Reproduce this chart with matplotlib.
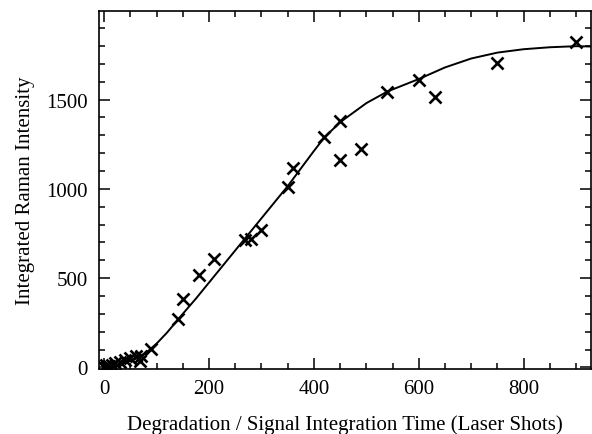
import matplotlib
matplotlib.use("Agg")
import matplotlib.pyplot as plt
from matplotlib.ticker import MultipleLocator

# measured points (laser shots, integrated intensity)
shots = [0, 3, 6, 10, 15, 20, 30, 40, 50, 60, 68, 70, 90, 140, 150, 180, 210,
         268, 280, 300, 350, 360, 420, 450, 450, 490, 540, 600, 630, 750, 900]
intensity = [5, 12, 3, 8, 15, 22, 32, 42, 52, 62, 35, 66, 102, 272, 385, 520, 605,
             712, 718, 772, 1013, 1115, 1292, 1382, 1162, 1221, 1544, 1609, 1516, 1707, 1820]

# fitted curve
fit_x = [0, 20, 40, 60, 80, 100, 120, 150, 175, 200, 250, 300, 350, 400, 420,
         450, 500, 540, 600, 650, 700, 750, 800, 850, 900, 930]
fit_y = [2, 10, 25, 48, 82, 133, 195, 300, 385, 475, 655, 835, 1015, 1212, 1288,
         1373, 1480, 1545, 1615, 1680, 1730, 1763, 1782, 1793, 1799, 1797]

plt.rcParams['font.family'] = ['Liberation Serif', 'DejaVu Serif']

fig = plt.figure(figsize=(5.92, 4.35), dpi=100)
ax = fig.add_axes([0.167, 0.149, 0.831, 0.823])

ax.plot(fit_x, fit_y, 'k-', linewidth=1.4)
ax.plot(shots, intensity, 'kx', markersize=8.5, markeredgewidth=1.9)

ax.set_xlim(-10, 928)
ax.set_ylim(-10, 1995)
ax.xaxis.set_major_locator(MultipleLocator(200))
ax.xaxis.set_minor_locator(MultipleLocator(50))
ax.yaxis.set_major_locator(MultipleLocator(500))
ax.yaxis.set_minor_locator(MultipleLocator(100))
ax.tick_params(which='both', direction='in', top=True, right=True,
               width=1.1, labelsize=15)
ax.tick_params(axis='x', which='major', length=8, pad=7)
ax.tick_params(axis='y', which='major', length=8, pad=8)
ax.tick_params(which='minor', length=4)
for s in ax.spines.values():
    s.set_linewidth(1.2)

ax.set_xlabel('Degradation / Signal Integration Time (Laser Shots)', fontsize=15, labelpad=12)
ax.set_ylabel('Integrated Raman Intensity', fontsize=15, labelpad=8)

fig.savefig('out.png', dpi=100)
